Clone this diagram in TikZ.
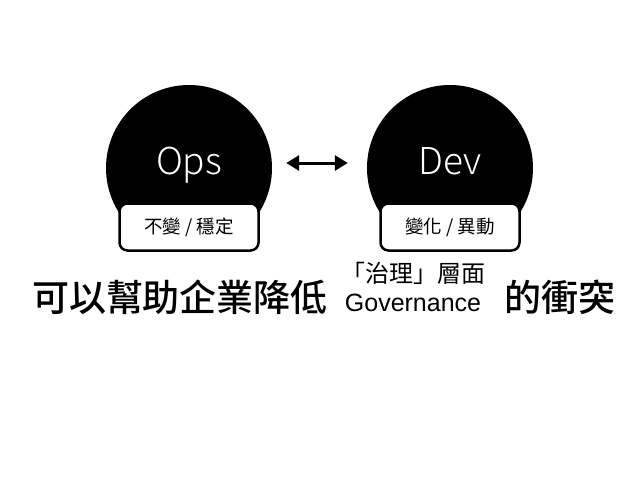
\documentclass[tikz,border=0pt]{standalone}
\usepackage{fontspec}
\setmainfont{Liberation Sans}
\newfontfamily\cjk{Noto Sans CJK TC}
\newfontfamily\cjkmed{Noto Sans CJK TC}[UprightFont=* Medium]
\newfontfamily\cjklight{Noto Sans CJK TC}[UprightFont=* Light]
\usetikzlibrary{arrows.meta}
\tikzset{
  bubble/.style={circle, fill=black, minimum size=166pt, inner sep=0pt},
  bubbletext/.style={text=white, font=\cjklight\fontsize{37}{37}\selectfont, anchor=base, inner sep=0pt},
  tagbox/.style={draw=black, line width=2.5pt, fill=white, rounded corners=8pt, minimum width=139pt, minimum height=47pt, inner sep=0pt, font=\cjk\fontsize{18.5}{18.5}\selectfont},
  bigtext/.style={font=\cjkmed\fontsize{37}{37}\selectfont, inner sep=0pt},
  smalltext/.style={font=\cjk\fontsize{24}{24}\selectfont, inner sep=0pt},
  govtext/.style={font=\fontsize{25}{25}\selectfont, inner sep=0pt},
  link/.style={line width=3pt, {Triangle[length=13pt,width=15pt]}-{Triangle[length=13pt,width=15pt]}}
}
\begin{document}
\begin{tikzpicture}[x=1pt,y=-1pt]
\useasboundingbox (0,0) rectangle (638,479);
\node[bubble] (opsc) at (189,168) {};
\node[bubble] (devc) at (450,168) {};
\node[bubbletext] (ops) at (189,174) {Ops};
\node[bubbletext] (dev) at (450,174) {Dev};
\node[tagbox] (opstag) at (189,227) {不變 / 穩定};
\node[tagbox] (devtag) at (450,227) {變化 / 異動};
\path (opsc.east) ++(14,-5) coordinate (al) (devc.west) ++(-19,-5) coordinate (ar);
\draw[link] (al) -- (ar);
\node[bigtext] (left) at (180,297) {可以幫助企業降低};
\node[smalltext] (gov1) at (413,273) {「治理」層面};
\node[govtext] (gov2) at (413,303) {Governance};
\node[bigtext] (right) at (560,297) {的衝突};
\end{tikzpicture}
\end{document}
